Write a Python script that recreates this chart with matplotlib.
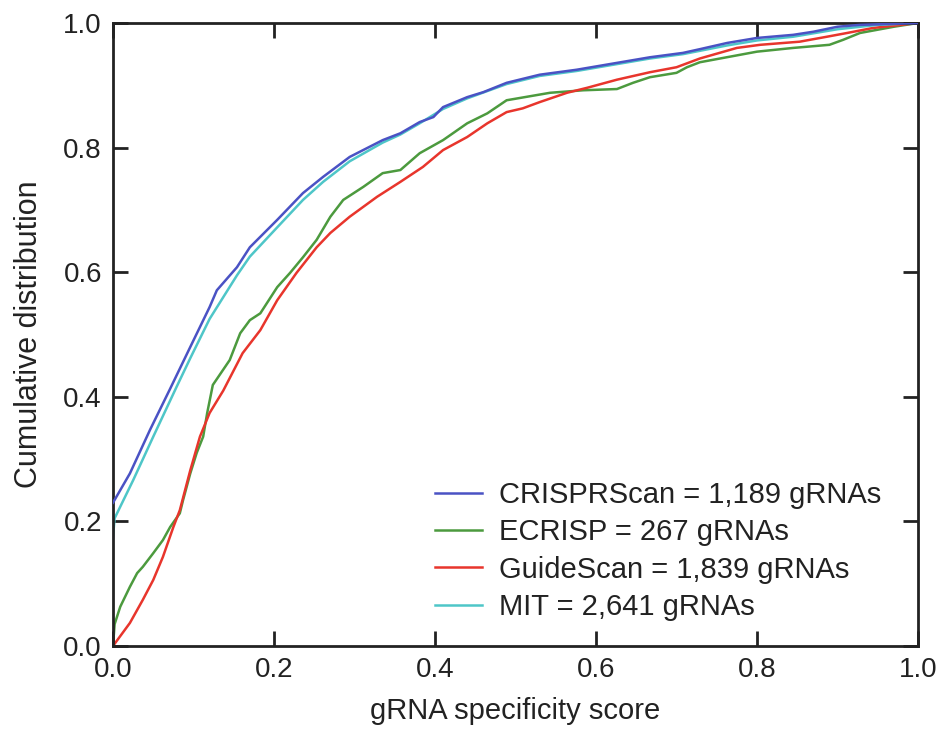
import numpy as np
import matplotlib
matplotlib.use('Agg')
import matplotlib.pyplot as plt

plt.rcParams['font.family'] = ['Liberation Sans', 'DejaVu Sans']

# values (score, cumulative fraction)
crisprscan_x = [0.0, 0.021, 0.046, 0.071, 0.096, 0.12, 0.129, 0.154, 0.17, 0.204, 0.236,
                0.261, 0.294, 0.335, 0.357, 0.381, 0.398, 0.41, 0.44, 0.46, 0.489, 0.53,
                0.576, 0.626, 0.667, 0.708, 0.729, 0.763, 0.8, 0.845, 0.87, 0.9, 0.928, 1.0]
crisprscan_y = [0.23, 0.277, 0.347, 0.413, 0.48, 0.544, 0.571, 0.608, 0.64, 0.684, 0.727,
                0.753, 0.785, 0.812, 0.823, 0.841, 0.849, 0.865, 0.881, 0.889, 0.904, 0.917,
                0.925, 0.936, 0.945, 0.952, 0.958, 0.968, 0.976, 0.981, 0.986, 0.994, 0.997, 1.0]

ecrisp_x = [0.0, 0.002, 0.009, 0.021, 0.03, 0.037, 0.05, 0.062, 0.071, 0.083, 0.087, 0.096,
            0.104, 0.112, 0.117, 0.124, 0.145, 0.158, 0.17, 0.183, 0.204, 0.22, 0.236,
            0.253, 0.27, 0.286, 0.311, 0.335, 0.357, 0.381, 0.41, 0.44, 0.465, 0.489,
            0.543, 0.584, 0.626, 0.646, 0.667, 0.7, 0.713, 0.729, 0.8, 0.845, 0.89,
            0.907, 0.928, 0.949, 0.97, 1.0]
ecrisp_y = [0.0, 0.035, 0.063, 0.095, 0.117, 0.127, 0.149, 0.17, 0.191, 0.213, 0.234, 0.277,
            0.31, 0.336, 0.374, 0.419, 0.459, 0.502, 0.523, 0.534, 0.576, 0.599, 0.624,
            0.652, 0.689, 0.716, 0.737, 0.759, 0.764, 0.791, 0.812, 0.839, 0.855, 0.876,
            0.888, 0.892, 0.894, 0.904, 0.913, 0.92, 0.929, 0.937, 0.954, 0.96, 0.965,
            0.973, 0.984, 0.989, 0.994, 1.0]

guidescan_x = [0.0, 0.021, 0.037, 0.05, 0.062, 0.075, 0.083, 0.096, 0.108, 0.12, 0.137,
               0.161, 0.183, 0.204, 0.228, 0.253, 0.27, 0.294, 0.328, 0.357, 0.385, 0.41,
               0.44, 0.465, 0.489, 0.509, 0.53, 0.564, 0.589, 0.626, 0.667, 0.7, 0.729,
               0.775, 0.804, 0.853, 0.887, 0.912, 0.944, 1.0]
guidescan_y = [0.0, 0.037, 0.074, 0.106, 0.143, 0.191, 0.218, 0.282, 0.336, 0.374, 0.41,
               0.47, 0.507, 0.555, 0.599, 0.64, 0.663, 0.689, 0.721, 0.745, 0.769, 0.796,
               0.817, 0.839, 0.857, 0.863, 0.873, 0.888, 0.896, 0.909, 0.921, 0.929, 0.943,
               0.96, 0.965, 0.97, 0.978, 0.984, 0.992, 1.0]

mit_x = [0.0, 0.002, 0.025, 0.05, 0.079, 0.096, 0.12, 0.154, 0.17, 0.204, 0.236, 0.261,
         0.294, 0.335, 0.357, 0.381, 0.41, 0.44, 0.489, 0.53, 0.576, 0.626, 0.667, 0.708,
         0.763, 0.8, 0.845, 0.9, 0.95, 1.0]
mit_y = [0.175, 0.205, 0.266, 0.336, 0.416, 0.462, 0.525, 0.595, 0.625, 0.672, 0.716, 0.745,
         0.778, 0.808, 0.821, 0.839, 0.862, 0.879, 0.902, 0.915, 0.923, 0.934, 0.943, 0.95,
         0.964, 0.972, 0.978, 0.99, 0.997, 1.0]

labels = ['CRISPRScan = 1,189 gRNAs', 'ECRISP = 267 gRNAs',
          'GuideScan = 1,839 gRNAs', 'MIT = 2,641 gRNAs']
colors = ['#4a52c4', '#4c9a3e', '#e8352c', '#4ec6c8']

fig = plt.figure(figsize=(9.4, 7.29), dpi=100)
ax = fig.add_axes([113 / 940, 1 - 646 / 729, 805 / 940, 623 / 729])

series = [(crisprscan_x, crisprscan_y), (ecrisp_x, ecrisp_y),
          (guidescan_x, guidescan_y), (mit_x, mit_y)]
for (xs, ys), lab, col in zip(series, labels, colors):
    ax.plot(xs, ys, color=col, lw=1.8, label=lab)
# blue sits over cyan in the original
ax.lines[0].set_zorder(3)

ax.set_xlim(0, 1)
ax.set_ylim(0, 1)
ticks = np.arange(0, 1.01, 0.2)
ax.set_xticks(ticks)
ax.set_yticks(ticks)
ax.set_xticklabels(['%.1f' % t for t in ticks])
ax.set_yticklabels(['%.1f' % t for t in ticks])
ax.tick_params(direction='in', length=11, width=2, top=True, right=True,
               labelsize=20, color='#222222', labelcolor='#222222')
ax.tick_params(axis='x', pad=8)
ax.tick_params(axis='y', pad=8)
for s in ax.spines.values():
    s.set_linewidth(2)
    s.set_color('#222222')

ax.set_xlabel('gRNA specificity score', fontsize=21, labelpad=10, color='#222222')
ax.set_ylabel('Cumulative distribution', fontsize=22, labelpad=14, color='#222222')

ax.legend(loc='upper left', bbox_to_anchor=((435 - 113) / 805, (646 - 481) / 623),
          frameon=False, fontsize=21, handlelength=1.6, handletextpad=0.6,
          labelspacing=0.32, borderpad=0, borderaxespad=0, labelcolor='#222222')

fig.savefig('out.png', dpi=100)
